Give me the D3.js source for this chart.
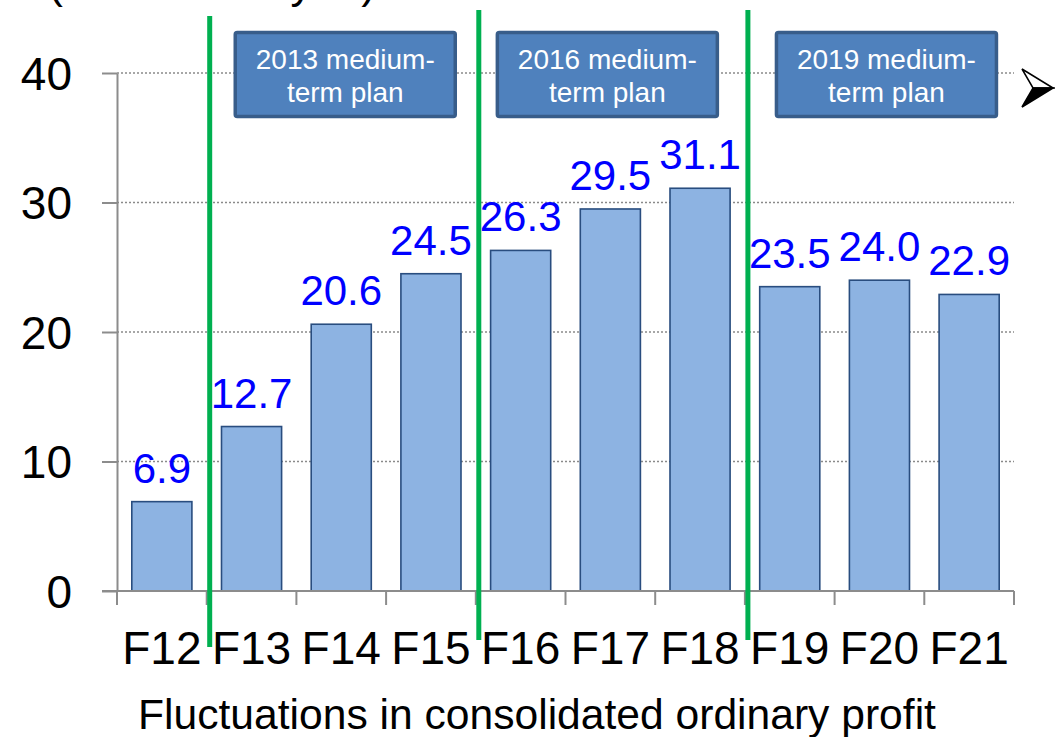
<!DOCTYPE html>
<html>
<head>
<meta charset="utf-8">
<script src="https://cdn.jsdelivr.net/npm/d3@7"></script>
<style>
  html, body { margin: 0; padding: 0; background: #fff; }
  svg { display: block; }
  text { font-family: "Liberation Sans", Arial, sans-serif; }
</style>
</head>
<body>
<svg id="chart" width="1055" height="737"></svg>
<script>
// Consolidated ordinary profit by fiscal year
const categories = ["F12", "F13", "F14", "F15", "F16", "F17", "F18", "F19", "F20", "F21"];
const profit = [6.9, 12.7, 20.6, 24.5, 26.3, 29.5, 31.1, 23.5, 24.0, 22.9];
const yTicks = [0, 10, 20, 30, 40];

// Medium-term plan periods: first year and middle year of each plan
const planNames = ["2013 medium-", "2016 medium-", "2019 medium-"];
const planStart = ["F13", "F16", "F19"];
const planMiddle = ["F14", "F17", "F20"];

const unitLabel = "(Unit: billion yen)";
const xTitle = "Fluctuations in consolidated ordinary profit";

const svg = d3.select("#chart");

const plot = { left: 117, right: 1014, top: 73, bottom: 591 };

const x = d3.scaleBand()
  .domain(categories)
  .range([plot.left, plot.right])
  .paddingInner(0.33)
  .paddingOuter(0.165);

const y = d3.scaleLinear()
  .domain([0, 40])
  .range([plot.bottom, plot.top]);

const axisColor = "#8c8c8c";

// Unit caption, running off the top edge
svg.append("text")
  .attr("x", 376)
  .attr("y", -2)
  .attr("text-anchor", "end")
  .attr("font-size", 44)
  .attr("fill", "#000")
  .text(unitLabel);

// Dotted horizontal gridlines
svg.append("g")
  .selectAll("line")
  .data(yTicks.filter(d => d > 0))
  .join("line")
  .attr("x1", plot.left)
  .attr("x2", plot.right)
  .attr("y1", d => y(d))
  .attr("y2", d => y(d))
  .attr("stroke", "#8a8a8a")
  .attr("stroke-width", 1.5)
  .attr("stroke-dasharray", "2,2");

// Y axis
const yAxis = svg.append("g")
  .attr("transform", `translate(${plot.left},0)`)
  .call(d3.axisLeft(y).tickValues(yTicks).tickSize(15).tickPadding(30).tickSizeOuter(0));
yAxis.select(".domain").attr("stroke", axisColor).attr("stroke-width", 2);
yAxis.selectAll(".tick line").attr("stroke", axisColor).attr("stroke-width", 2);
yAxis.selectAll(".tick text")
  .attr("font-family", "Liberation Sans, Arial, sans-serif")
  .attr("font-size", 46)
  .attr("fill", "#000")
  .attr("dy", "0.35em");

// Bars
svg.append("g")
  .selectAll("rect")
  .data(categories)
  .join("rect")
  .attr("x", d => x(d))
  .attr("width", x.bandwidth())
  .attr("y", (d, i) => y(profit[i]))
  .attr("height", (d, i) => y(0) - y(profit[i]))
  .attr("fill", "#8db3e2")
  .attr("stroke", "#294d7f")
  .attr("stroke-width", 1.6);

// X axis with ticks on band boundaries
const step = x.step();
const boundaries = d3.range(categories.length + 1).map(i => plot.left + i * step);
svg.append("line")
  .attr("x1", plot.left - 15)
  .attr("x2", plot.right)
  .attr("y1", y(0))
  .attr("y2", y(0))
  .attr("stroke", axisColor)
  .attr("stroke-width", 2);
svg.append("g")
  .selectAll("line")
  .data(boundaries)
  .join("line")
  .attr("x1", d => d)
  .attr("x2", d => d)
  .attr("y1", y(0))
  .attr("y2", y(0) + 14)
  .attr("stroke", axisColor)
  .attr("stroke-width", 2);

// Category labels
svg.append("g")
  .selectAll("text")
  .data(categories)
  .join("text")
  .attr("x", d => x(d) + x.bandwidth() / 2)
  .attr("y", 664)
  .attr("text-anchor", "middle")
  .attr("font-size", 46)
  .attr("fill", "#000")
  .text(d => d);

// Value labels
svg.append("g")
  .selectAll("text")
  .data(categories)
  .join("text")
  .attr("x", d => x(d) + x.bandwidth() / 2)
  .attr("y", (d, i) => y(profit[i]) - 19)
  .attr("text-anchor", "middle")
  .attr("font-size", 42)
  .attr("fill", "#0000ff")
  .text((d, i) => profit[i].toFixed(1));

// Plan boundary markers
const boundaryX = c => x(c) - x.paddingInner() * step / 2 + 3;
svg.append("g")
  .selectAll("line")
  .data(planStart)
  .join("line")
  .attr("x1", d => boundaryX(d))
  .attr("x2", d => boundaryX(d))
  .attr("y1", (d, i) => i === 0 ? 16 : 10)
  .attr("y2", (d, i) => i === 0 ? 647 : 640)
  .attr("stroke", "#00b050")
  .attr("stroke-width", 5);

// Plan name boxes
const boxW = 220, boxH = 84, boxTop = 32.5;
const boxShift = [4, -3, 7];
const boxes = svg.append("g")
  .selectAll("g")
  .data(planMiddle)
  .join("g")
  .attr("transform", (d, i) => `translate(${x(d) + x.bandwidth() / 2 + boxShift[i]},${boxTop})`);
boxes.append("rect")
  .attr("x", -boxW / 2)
  .attr("y", 0)
  .attr("width", boxW)
  .attr("height", boxH)
  .attr("rx", 2)
  .attr("fill", "#4f81bd")
  .attr("stroke", "#385d8a")
  .attr("stroke-width", 3.5);
boxes.append("text")
  .attr("x", 0)
  .attr("y", 36)
  .attr("text-anchor", "middle")
  .attr("font-size", 28)
  .attr("fill", "#fff")
  .text((d, i) => planNames[i]);
boxes.append("text")
  .attr("x", 0)
  .attr("y", 69.5)
  .attr("text-anchor", "middle")
  .attr("font-size", 28)
  .attr("fill", "#fff")
  .text("term plan");

// Continuation arrowhead (upper half light, lower half dark)
const arrow = svg.append("g").attr("transform", "translate(1022,69)");
arrow.append("path")
  .attr("d", "M0,0 L31,19 L11,19 Z")
  .attr("fill", "#fff")
  .attr("stroke", "#000")
  .attr("stroke-width", 1.5)
  .attr("stroke-linejoin", "miter");
arrow.append("path")
  .attr("d", "M0,38 L31,19 L11,19 Z")
  .attr("fill", "#000")
  .attr("stroke", "#000")
  .attr("stroke-width", 1.5);

// X axis title
svg.append("text")
  .attr("x", 537)
  .attr("y", 729)
  .attr("text-anchor", "middle")
  .attr("font-size", 42.6)
  .attr("fill", "#000")
  .text(xTitle);
</script>
</body>
</html>
